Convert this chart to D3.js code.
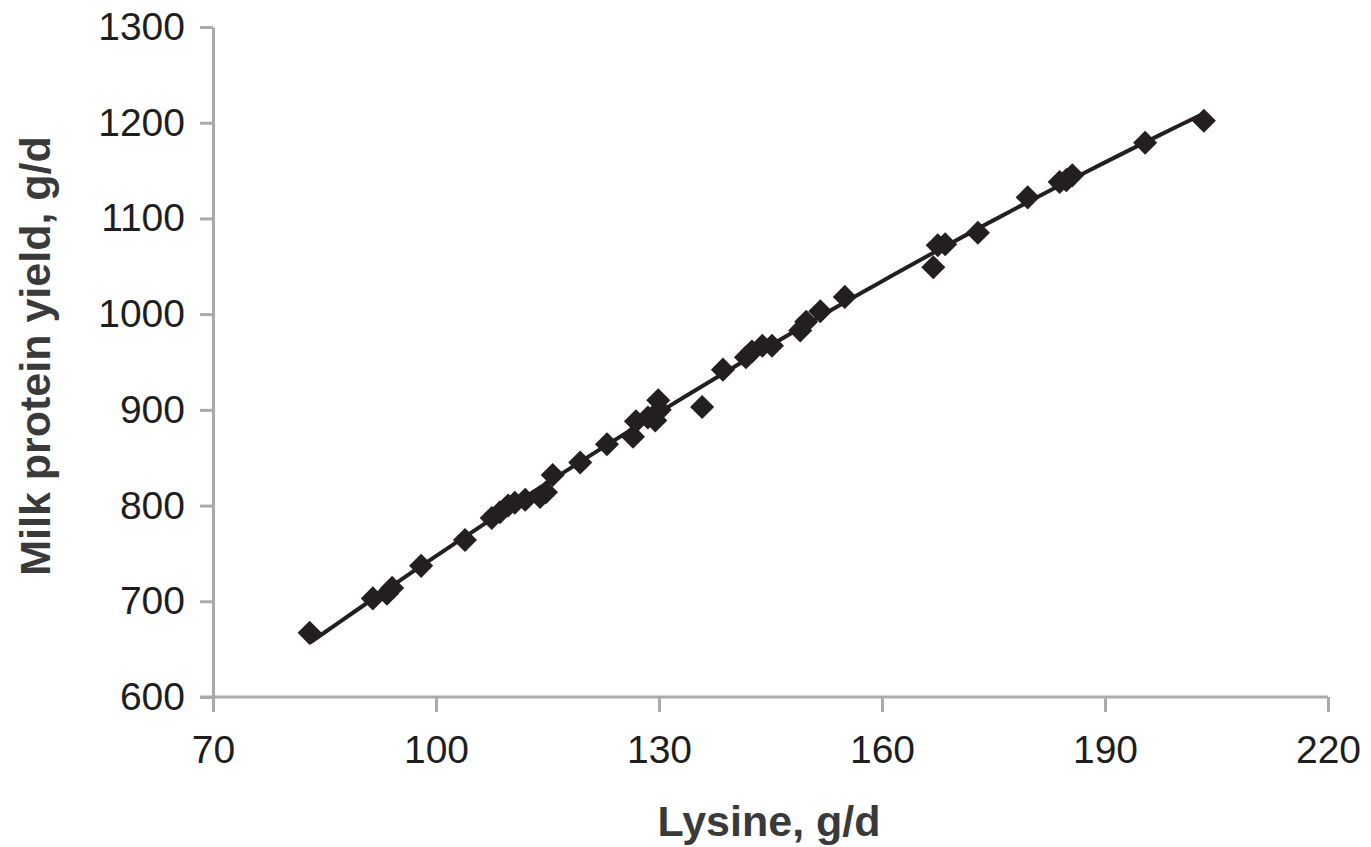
<!DOCTYPE html>
<html>
<head>
<meta charset="utf-8">
<script src="https://cdn.jsdelivr.net/npm/d3@7"></script>
<style>
  body { margin: 0; background: #fff; }
  svg { display: block; }
  .tick text { font-family: "Liberation Sans", Arial, sans-serif; font-size: 39px; fill: #1e1e1e; }
  .title { font-family: "Liberation Sans", Arial, sans-serif; font-size: 43px; font-weight: bold; fill: #3a3a3a; }
</style>
</head>
<body>
<script>
// lysine (g/d) and milk protein yield (g/d)
var lysine = [83.0, 91.5, 93.4, 94.1, 98.0, 103.9, 107.5, 108.6, 109.7, 110.6, 112.0, 114.0, 114.8, 115.7,
              119.4, 123.0, 126.5, 126.9, 128.5, 129.5, 129.9, 130.1, 135.8, 138.6, 141.7, 142.5, 143.9,
              145.2, 149.0, 149.8, 151.7, 155.0, 166.9, 167.5, 168.5, 172.9, 179.6, 183.9, 184.8, 185.6,
              195.4, 203.3];
var protein = [667, 703, 708, 714, 737, 764, 787, 793, 800, 803, 806, 809, 814, 832,
               845, 864, 872, 888, 892, 889, 910, 900, 903, 942, 955, 961, 967,
               967, 983, 992, 1003, 1018, 1049, 1072, 1073, 1085, 1122, 1138, 1140, 1145,
               1179, 1202];
var xTicks = [70, 100, 130, 160, 190, 220];
var yTicks = [600, 700, 800, 900, 1000, 1100, 1200, 1300];

(function () {
  var W = 1371, H = 847;
  var m = { left: 213, right: 43, top: 27, bottom: 150 };

  var svg = d3.select("body").append("svg").attr("width", W).attr("height", H);

  var x = d3.scaleLinear().domain([70, 220]).range([m.left, W - m.right]);
  var y = d3.scaleLinear().domain([600, 1300]).range([H - m.bottom, m.top]);

  // quadratic least squares trend line
  function fit2(xs, ys) {
    var n = xs.length, s = [0, 0, 0, 0, 0], t = [0, 0, 0];
    for (var i = 0; i < n; i++) {
      var p = 1;
      for (var k = 0; k < 5; k++) { s[k] += p; if (k < 3) t[k] += p * ys[i]; p *= xs[i]; }
    }
    var A = [[s[0], s[1], s[2], t[0]], [s[1], s[2], s[3], t[1]], [s[2], s[3], s[4], t[2]]];
    for (var c = 0; c < 3; c++) {
      for (var r = c + 1; r < 3; r++) {
        var f = A[r][c] / A[c][c];
        for (var j = c; j < 4; j++) A[r][j] -= f * A[c][j];
      }
    }
    var b = [0, 0, 0];
    for (var r2 = 2; r2 >= 0; r2--) {
      var v = A[r2][3];
      for (var j2 = r2 + 1; j2 < 3; j2++) v -= A[r2][j2] * b[j2];
      b[r2] = v / A[r2][r2];
    }
    return function (v) { return b[0] + b[1] * v + b[2] * v * v; };
  }
  var trend = fit2(lysine, protein);

  var xAxis = svg.append("g")
    .attr("transform", "translate(0," + (H - m.bottom) + ")")
    .call(d3.axisBottom(x).tickValues(xTicks).tickFormat(d3.format("d")).tickSize(15).tickPadding(23).tickSizeOuter(0));
  var yAxis = svg.append("g")
    .attr("transform", "translate(" + m.left + ",0)")
    .call(d3.axisLeft(y).tickValues(yTicks).tickFormat(d3.format("d")).tickSize(13).tickPadding(15).tickSizeOuter(0));
  [xAxis, yAxis].forEach(function (a) {
    a.select(".domain").attr("stroke", "#aaa").attr("stroke-width", 3);
    a.selectAll(".tick line").attr("stroke", "#aaa").attr("stroke-width", 3);
  });
  // extend the x axis line to meet the y tick at 600
  xAxis.select(".domain").attr("d", "M" + (m.left - 13) + ",0H" + (W - m.right));

  var ext = d3.extent(lysine);
  var tx = d3.range(ext[0], ext[1] + 0.01, (ext[1] - ext[0]) / 60);
  svg.append("path")
    .datum(tx)
    .attr("fill", "none")
    .attr("stroke", "#231f20")
    .attr("stroke-width", 4)
    .attr("d", d3.line().x(function (d) { return x(d); }).y(function (d) { return y(trend(d)); }));

  var sym = d3.symbol().type(d3.symbolSquare).size(290);
  svg.append("g").selectAll("path")
    .data(lysine)
    .enter().append("path")
    .attr("d", sym)
    .attr("fill", "#231f20")
    .attr("transform", function (d, i) { return "translate(" + x(d) + "," + y(protein[i]) + ") rotate(45)"; });

  svg.append("text").attr("class", "title")
    .attr("x", 769).attr("y", 836)
    .attr("text-anchor", "middle")
    .text("Lysine, g/d");

  svg.append("text").attr("class", "title")
    .attr("transform", "translate(50,356) rotate(-90)")
    .attr("text-anchor", "middle")
    .text("Milk protein yield, g/d");
})();
</script>
</body>
</html>
